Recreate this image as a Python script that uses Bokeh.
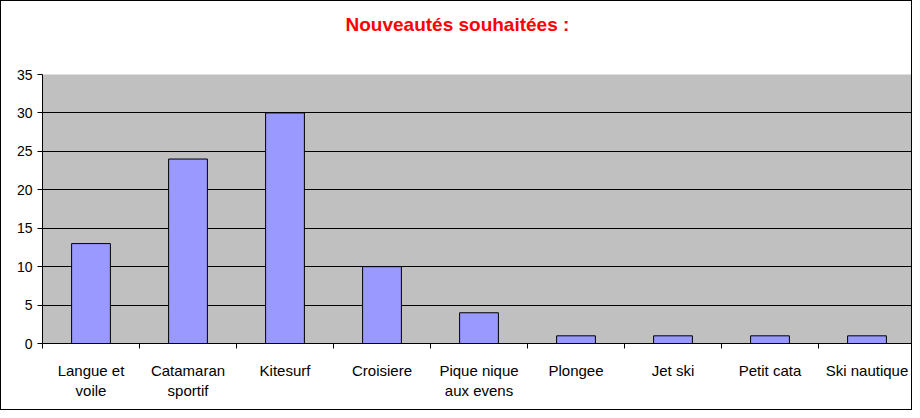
from bokeh.plotting import figure
from bokeh.models import Range1d, FixedTicker
from bokeh.embed import file_html
from bokeh.resources import INLINE

categories = ["Langue et\nvoile", "Catamaran\nsportif", "Kitesurf", "Croisiere",
              "Pique nique\naux evens", "Plongee", "Jet ski", "Petit cata", "Ski nautique"]
values = [13, 24, 30, 10, 4, 1, 1, 1, 1]
y_ticks = [0, 5, 10, 15, 20, 25, 30, 35]
title_text = "Nouveautés souhaitées :"

centers = [i + 0.5 for i in range(len(categories))]
bounds = list(range(len(categories) + 1))

p = figure(width=912, height=410, output_backend="svg", toolbar_location=None,
           x_range=Range1d(0, 871 / 97.0), y_range=Range1d(0, 35),
           min_border_left=41, min_border_right=0, min_border_top=73, min_border_bottom=68)

p.vbar(x=centers, top=values, width=0.4, bottom=0,
       fill_color="#9999FF", line_color="black", line_width=1)

p.background_fill_color = "#C0C0C0"
p.border_fill_color = "white"
p.outline_line_color = None
p.styles = {"border": "1px solid black", "box-sizing": "border-box"}

p.title.text = title_text
p.title.text_color = "#FF0000"
p.title.text_font = "Liberation Sans"
p.title.text_font_size = "19px"
p.title.text_font_style = "bold"
p.title.align = "left"
p.title.offset = 303
p.title.standoff = 0
p.title.padding = dict(left=0, right=0, top=0, bottom=40)

p.xgrid.visible = False
p.ygrid.ticker = FixedTicker(ticks=y_ticks)
p.ygrid.grid_line_color = "black"
p.ygrid.grid_line_width = 1

xa = p.xaxis[0]
xa.ticker = FixedTicker(ticks=centers, minor_ticks=bounds)
xa.major_label_overrides = {c: lab for c, lab in zip(centers, categories)}
xa.major_tick_line_color = None
xa.minor_tick_line_color = "black"
xa.minor_tick_in = 0
xa.minor_tick_out = 5
xa.axis_line_color = "black"
xa.major_label_text_font = "Liberation Sans"
xa.major_label_text_font_size = "15px"
xa.major_label_text_color = "black"
xa.major_label_standoff = 12

ya = p.yaxis[0]
ya.ticker = FixedTicker(ticks=y_ticks)
ya.minor_tick_line_color = None
ya.major_tick_in = 0
ya.major_tick_out = 5
ya.major_tick_line_color = "black"
ya.axis_line_color = "black"
ya.major_label_text_font = "Liberation Sans"
ya.major_label_text_font_size = "14px"
ya.major_label_text_color = "black"
ya.major_label_standoff = 5

open("out.html", "w").write(file_html(p, INLINE))
